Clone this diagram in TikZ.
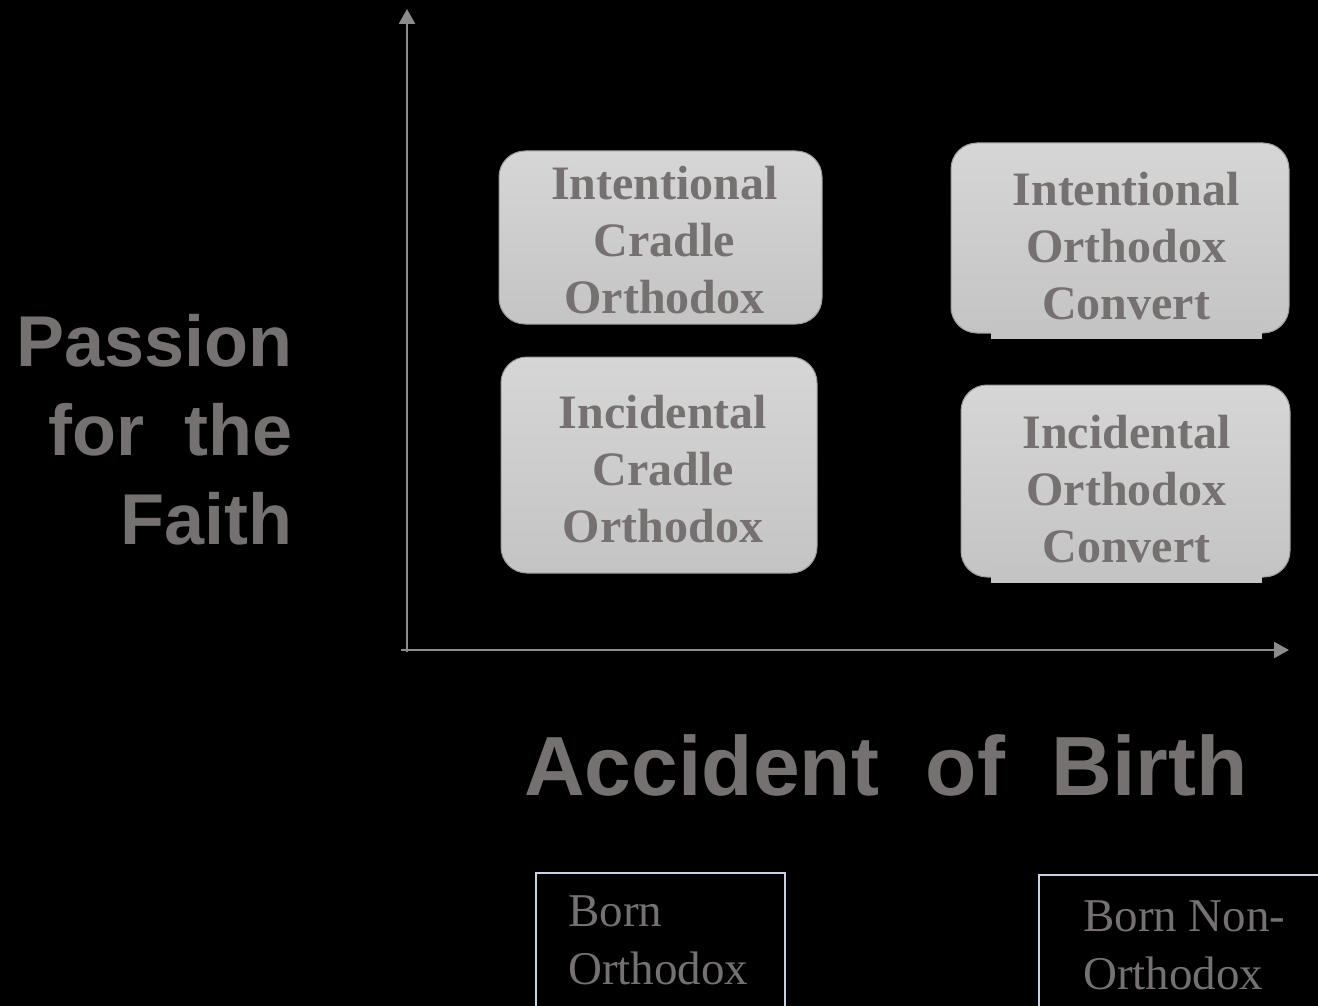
\documentclass[tikz,border=0pt]{standalone}
\usepackage{fontspec}
\setmainfont{Liberation Serif}
\newfontfamily\labelfont{Liberation Sans}
\usetikzlibrary{arrows.meta,positioning,calc}
\definecolor{txtgray}{HTML}{767171}
\definecolor{axisgray}{HTML}{8C8C8C}
\definecolor{boxtop}{HTML}{D6D6D6}
\definecolor{boxbot}{HTML}{C4C4C4}
\definecolor{boxline}{HTML}{9C9C9C}
\definecolor{bornline}{HTML}{C8D2E2}
\tikzset{
  axis/.style={draw=axisgray, line width=2.6pt, -{Triangle[length=15pt,width=16pt]}},
  quad/.style={draw=boxline, line width=1pt, rounded corners=26pt,
    top color=boxtop, bottom color=boxbot, inner sep=0pt},
  quadtext/.style={text=txtgray, align=center, inner sep=0pt,
    font=\fontsize{48}{57}\selectfont\bfseries},
  strip/.style={fill=boxbot},
  bornbox/.style={draw=bornline, line width=1.5pt, inner sep=0pt, anchor=north west},
  borntext/.style={text=txtgray, align=left, inner sep=0pt, anchor=north west,
    font=\fontsize{47}{58}\selectfont},
  bigtext/.style={text=txtgray, inner sep=0pt, font=\labelfont\bfseries},
}

\begin{document}
\begin{tikzpicture}[x=1pt,y=-1pt]
  \fill[black] (0,0) rectangle (1318,1006);
  \useasboundingbox (0,0) rectangle (1318,1006);

  % axes
  \coordinate (origin) at (407,652);
  \coordinate (xstart) at (401,650);
  \coordinate (ytop) at (407,9);
  \coordinate (xend) at (1289,650);
  \draw[axis] (origin) -- (ytop);
  \draw[axis] (xstart) -- (xend);

  % quadrants
  \node[quad, minimum width=323pt, minimum height=173pt] (icradle) at (660.5,237.5) {};
  \node[quad, minimum width=338pt, minimum height=190pt] (iconv) at (1120,238) {};
  \node[quad, minimum width=316pt, minimum height=216pt] (acradle) at (659,465) {};
  \node[quad, minimum width=329pt, minimum height=192pt] (aconv) at (1125.5,481) {};
  \fill[strip] (991,322) rectangle (1262,339);
  \fill[strip] (991,566) rectangle (1262,583);

  \node[quadtext] (icradletext) at ([xshift=4pt,yshift=-3pt]icradle.center) {Intentional\\Cradle\\Orthodox};
  \node[quadtext] (iconvtext) at ([xshift=6pt,yshift=-8pt]iconv.center) {Intentional\\Orthodox\\Convert};
  \node[quadtext] (acradletext) at ([xshift=4pt,yshift=-4pt]acradle.center) {Incidental\\Cradle\\Orthodox};
  \node[quadtext] (aconvtext) at ([xshift=1pt,yshift=-8pt]aconv.center) {Incidental\\Orthodox\\Convert};

  % axis labels
  \node[bigtext, align=right, anchor=north east,
    font=\labelfont\bfseries\fontsize{72}{89}\selectfont] (passion) at (293,314) {Passion\\for\ \ the\\Faith};
  \node[bigtext, anchor=base,
    font=\labelfont\bfseries\fontsize{84}{96}\selectfont] (birth) at (886,795) {Accident\ \ of\ \ Birth};

  % birth categories
  \node[bornbox, minimum width=249pt, minimum height=160pt] (bornin) at (535,872) {};
  \node[bornbox, minimum width=300pt, minimum height=160pt] (bornout) at (1038,874) {};
  \node[borntext] (bornintext) at ([xshift=33pt,yshift=-24pt]bornin.north west) {Born\\Orthodox};
  \node[borntext] (bornouttext) at ([xshift=45pt,yshift=-27pt]bornout.north west) {Born Non-\\Orthodox};
\end{tikzpicture}
\end{document}
